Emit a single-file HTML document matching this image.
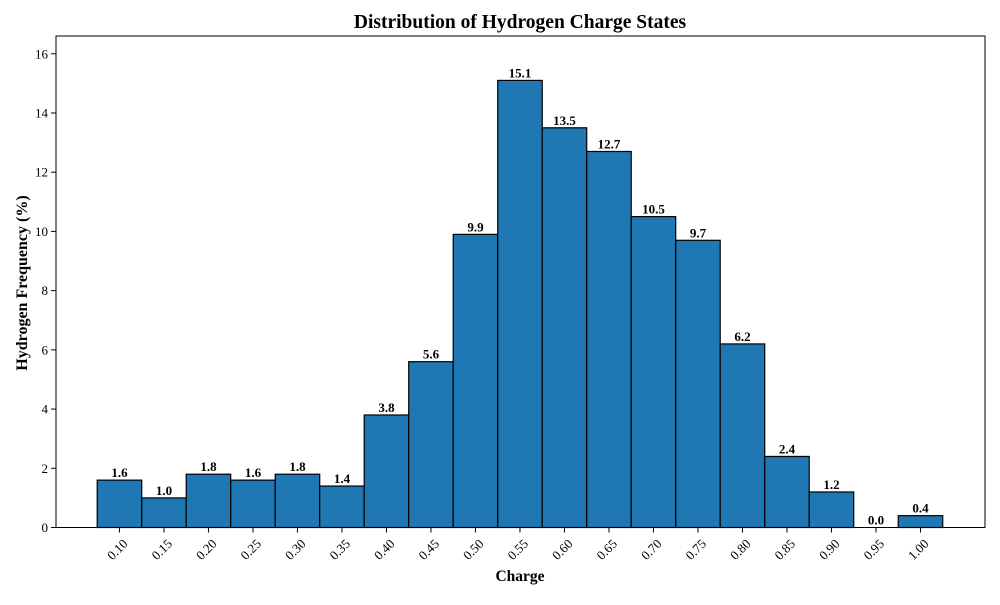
<!DOCTYPE html>
<html><head><meta charset="utf-8"><style>
body{margin:0;background:#fff}
svg text{font-family:"Liberation Serif",serif}
</style></head><body>
<svg id="chart" width="1000" height="600" xmlns="http://www.w3.org/2000/svg">
<rect width="1000" height="600" fill="#fff"/>
<text x="520" y="28" text-anchor="middle" font-size="19.5" font-weight="bold">Distribution of Hydrogen Charge States</text>
<text x="520" y="581" text-anchor="middle" font-size="15.5" font-weight="bold">Charge</text>
<text transform="translate(27,283) rotate(-90)" text-anchor="middle" font-size="16" font-weight="bold">Hydrogen Frequency (%)</text>
<g id="bars"></g><g id="labels"></g><g id="xticks"></g><g id="yticks"></g>
<rect x="56" y="36" width="929" height="491.5" fill="none" stroke="#000" stroke-width="1"/>
</svg>
<script>
const categories=["0.10","0.15","0.20","0.25","0.30","0.35","0.40","0.45","0.50","0.55","0.60","0.65","0.70","0.75","0.80","0.85","0.90","0.95","1.00"];
const values=[1.6,1.0,1.8,1.6,1.8,1.4,3.8,5.6,9.9,15.1,13.5,12.7,10.5,9.7,6.2,2.4,1.2,0.0,0.4];
const yTicks=[0,2,4,6,8,10,12,14,16];
const L=56,R=985,T=36,B=527.5,xmin=0.0287,xmax=1.0725,ymax=16.6;
const xs=v=>L+(v-xmin)/(xmax-xmin)*(R-L);
const ys=v=>B-v/ymax*(B-T);
const NS="http://www.w3.org/2000/svg";
function mk(tag,attrs,parent){const e=document.createElementNS(NS,tag);for(const k in attrs)e.setAttribute(k,attrs[k]);document.getElementById(parent).appendChild(e);return e;}
const w=0.05;
categories.forEach((c,i)=>{
  const v=parseFloat(c);
  const x0=xs(v-w/2),x1=xs(v+w/2);
  const r=mk('rect',{x:x0,y:ys(values[i]),width:x1-x0,height:B-ys(values[i]),fill:'#1f77b4',stroke:'#000','stroke-width':1.2},'bars');
  
  
  const t=mk('text',{x:xs(v),y:ys(values[i])-3,'text-anchor':'middle','font-size':13,'font-weight':'bold'},'labels');
  t.textContent=values[i].toFixed(1);
  
  
  const tk=mk('line',{x1:xs(v),x2:xs(v),y1:B,y2:B+5,stroke:'#000'},'xticks');
  
  
  const tl=mk('text',{'text-anchor':'end','font-size':13,transform:`translate(${xs(v)+9},${B+17}) rotate(-45)`},'xticks');
  tl.textContent=c;
  
  
});
yTicks.forEach(v=>{
  const tk=mk('line',{x1:L-5,x2:L,y1:ys(v),y2:ys(v),stroke:'#000'},'yticks');
  
  
  const tl=mk('text',{x:L-8,y:ys(v)+4.5,'text-anchor':'end','font-size':13},'yticks');
  tl.textContent=v;
  
  
});
</script>
</body></html>
